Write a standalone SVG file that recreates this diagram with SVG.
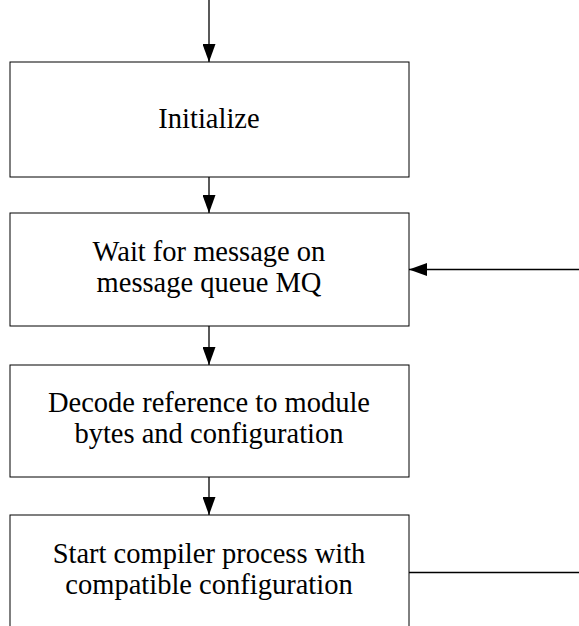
<svg xmlns="http://www.w3.org/2000/svg" width="579" height="626" viewBox="0 0 579 626">
<style>
.box{fill:#fff;stroke:#000;stroke-width:1}
.t{font-family:"Liberation Serif","Times New Roman",serif;font-size:28.5px;fill:#000;text-anchor:middle}
.c{stroke:#000;stroke-width:1.3;fill:none}
</style>
<defs>
<marker id="ah" markerUnits="userSpaceOnUse" markerWidth="18" markerHeight="13" refX="18" refY="6.5" orient="auto">
<path d="M0,0 L18,6.5 L0,13 Z" fill="#000"/>
</marker>
</defs>
<g id="n1"><rect class="box" x="10" y="62" width="399" height="115"/><text class="t" x="209" y="128">Initialize</text></g>
<g id="n2"><rect class="box" x="10" y="213" width="399" height="113"/><text class="t" x="209" y="261">Wait for message on</text><text class="t" x="209" y="292">message queue MQ</text></g>
<g id="n3"><rect class="box" x="10" y="365" width="399" height="112"/><text class="t" x="209" y="412">Decode reference to module</text><text class="t" x="209" y="443">bytes and configuration</text></g>
<g id="n4"><rect class="box" x="10" y="515" width="399" height="120"/><text class="t" x="209" y="563">Start compiler process with</text><text class="t" x="209" y="594">compatible configuration</text></g>
<g id="connectors">
<line class="c" x1="209" y1="0" x2="209" y2="62" marker-end="url(#ah)"/>
<line class="c" x1="209" y1="177" x2="209" y2="213" marker-end="url(#ah)"/>
<line class="c" x1="209" y1="326" x2="209" y2="365" marker-end="url(#ah)"/>
<line class="c" x1="209" y1="477" x2="209" y2="515" marker-end="url(#ah)"/>
<line class="c" x1="579" y1="269.5" x2="409" y2="269.5" marker-end="url(#ah)"/>
<line class="c" x1="409" y1="572.5" x2="579" y2="572.5"/>
</g>
</svg>
